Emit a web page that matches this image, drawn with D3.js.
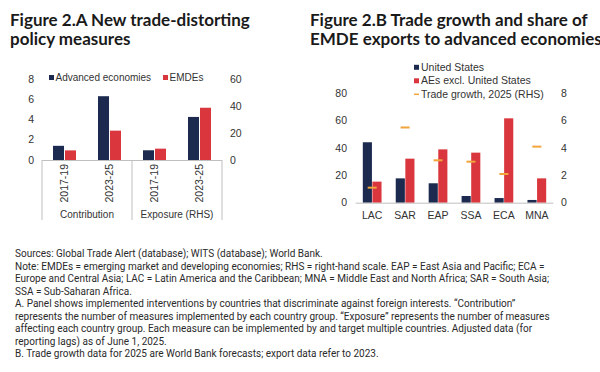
<!DOCTYPE html>
<html>
<head>
<meta charset="utf-8">
<script src="https://cdn.jsdelivr.net/npm/d3@7"></script>
<style>
  body { margin: 0; background: #fff; }
  svg { display: block; }
  .tick-label { font-family: "Liberation Sans", Arial, sans-serif; font-size: 10.5px; fill: #333; }
  .cat-label { font-family: "Liberation Sans", Arial, sans-serif; font-size: 10px; fill: #333; }
  .title { font-family: Lato, "Noto Sans", sans-serif; font-weight: bold; font-size: 17px; fill: #1a1a1a; }
  .note { font-family: Roboto, "Noto Sans", sans-serif; font-size: 10px; fill: #2a2a2a; }
</style>
</head>
<body>
<div id="chart"></div>
<script>
// ---- data, panel A ----
var periodsA = ["2017-19", "2023-25", "2017-19", "2023-25"];
var groupsA = ["Contribution", "Exposure (RHS)"];
var seriesA = ["Advanced economies", "EMDEs"];
var advancedA = [1.4, 6.3, 7.2, 31.9];   // first two on LHS, last two on RHS
var emdesA = [0.95, 2.9, 8.4, 38.7];
var ticksLA = [0, 2, 4, 6, 8];
var ticksRA = [0, 20, 40, 60];

// ---- data, panel B ----
var regionsB = ["LAC", "SAR", "EAP", "SSA", "ECA", "MNA"];
var seriesB = ["United States", "AEs excl. United States", "Trade growth, 2025 (RHS)"];
var usShare = [44.2, 17.8, 14.2, 4.9, 3.4, 2.0];
var aesShare = [15.4, 32.2, 39.0, 36.6, 61.7, 17.8];
var tradeGrowth = [1.1, 5.5, 3.1, 3.0, 2.1, 4.1];
var ticksLB = [0, 20, 40, 60, 80];
var ticksRB = [0, 2, 4, 6, 8];

var notes = [
  "Sources: Global Trade Alert (database); WITS (database); World Bank.",
  "Note: EMDEs = emerging market and developing economies; RHS = right-hand scale. EAP = East Asia and Pacific; ECA =",
  "Europe and Central Asia; LAC = Latin America and the Caribbean; MNA = Middle East and North Africa; SAR = South Asia;",
  "SSA = Sub-Saharan Africa.",
  "A. Panel shows implemented interventions by countries that discriminate against foreign interests. \u201cContribution\u201d",
  "represents the number of measures implemented by each country group. \u201cExposure\u201d represents the number of measures",
  "affecting each country group. Each measure can be implemented by and target multiple countries. Adjusted data (for",
  "reporting lags) as of June 1, 2025.",
  "B. Trade growth data for 2025 are World Bank forecasts; export data refer to 2023."
];

var navy = "#1b2a4e", red = "#d9373d", orange = "#f2a53a", axisGrey = "#bfbfbf";

var svg = d3.select("#chart").append("svg")
    .attr("width", 600)
    .attr("height", 372);

// titles
svg.append("text").attr("class", "title").attr("x", 10).attr("y", 26).text("Figure 2.A New trade-distorting");
svg.append("text").attr("class", "title").attr("x", 10).attr("y", 45).text("policy measures");
svg.append("text").attr("class", "title").attr("x", 310).attr("y", 26).text("Figure 2.B Trade growth and share of");
svg.append("text").attr("class", "title").attr("x", 310).attr("y", 45).text("EMDE exports to advanced economies");

// ================= Panel A =================
var xA = d3.scaleBand()
    .domain(d3.range(periodsA.length))
    .range([42, 222]);

var xA1 = d3.scaleBand()
    .domain(seriesA)
    .range([0, xA.bandwidth()])
    .paddingInner(0.083)
    .paddingOuter(0.917);

var yLA = d3.scaleLinear().domain([0, 8]).range([160, 79]);
var yRA = d3.scaleLinear().domain([0, 60]).range([160, 79]);

var panelA = svg.append("g").attr("class", "panelA");

panelA.selectAll(".ltick").data(ticksLA).enter().append("text")
    .attr("class", "tick-label")
    .attr("x", 34)
    .attr("y", function(d) { return yLA(d); })
    .attr("dy", "0.35em")
    .style("text-anchor", "end")
    .text(function(d) { return d; });

panelA.selectAll(".rtick").data(ticksRA).enter().append("text")
    .attr("class", "tick-label")
    .attr("x", 230)
    .attr("y", function(d) { return yRA(d); })
    .attr("dy", "0.35em")
    .text(function(d) { return d; });

var rowsA = periodsA.map(function(p, i) {
    var y = i < 2 ? yLA : yRA;
    return [
        { i: i, key: seriesA[0], value: advancedA[i], y: y, color: navy },
        { i: i, key: seriesA[1], value: emdesA[i], y: y, color: red }
    ];
});

panelA.selectAll(".bar").data(d3.merge(rowsA)).enter().append("rect")
    .attr("x", function(d) { return xA(d.i) + xA1(d.key); })
    .attr("width", xA1.bandwidth())
    .attr("y", function(d) { return d.y(d.value); })
    .attr("height", function(d) { return d.y(0) - d.y(d.value); })
    .style("fill", function(d) { return d.color; });

// baseline + group separators
panelA.append("line")
    .attr("x1", xA.range()[0]).attr("x2", xA.range()[1])
    .attr("y1", yLA(0) + 0.5).attr("y2", yLA(0) + 0.5)
    .style("stroke", axisGrey);

[0, 2, 4].forEach(function(k) {
    var xx = k < 4 ? xA(k) : xA.range()[1];
    panelA.append("line")
        .attr("x1", xx).attr("x2", xx)
        .attr("y1", yLA(0)).attr("y2", 220)
        .style("stroke", axisGrey);
});

panelA.selectAll(".period").data(periodsA).enter().append("text")
    .attr("class", "tick-label")
    .attr("transform", function(d, i) {
        return "translate(" + (xA(i) + xA.bandwidth() / 2) + "," + 164 + ") rotate(-90)";
    })
    .attr("dy", "0.35em")
    .style("text-anchor", "end")
    .text(function(d) { return d; });

panelA.selectAll(".group").data(groupsA).enter().append("text")
    .attr("class", "cat-label")
    .attr("x", function(d, i) { return xA(i * 2) + xA.bandwidth(); })
    .attr("y", 218)
    .style("text-anchor", "middle")
    .text(function(d) { return d; });

// legend A
var legA = [{ x: 49, label: seriesA[0], color: navy }, { x: 163, label: seriesA[1], color: red }];
legA.forEach(function(l) {
    panelA.append("rect").attr("x", l.x).attr("y", 75).attr("width", 5).attr("height", 5).style("fill", l.color);
    panelA.append("text").attr("class", "cat-label")
        .attr("x", l.x + 6.5).attr("y", 77.5).attr("dy", "0.35em")
        .text(l.label);
});

// ================= Panel B =================
var xB = d3.scaleBand()
    .domain(regionsB)
    .range([355.7, 553.3]);

var xB1 = d3.scaleBand()
    .domain(seriesB.slice(0, 2))
    .range([0, xB.bandwidth()])
    .paddingInner(0.05)
    .paddingOuter(0.74);

var yLB = d3.scaleLinear().domain([0, 80]).range([202.7, 93.3]);
var yRB = d3.scaleLinear().domain([0, 8]).range([202.7, 93.3]);

var panelB = svg.append("g").attr("class", "panelB");

panelB.selectAll(".ltick").data(ticksLB).enter().append("text")
    .attr("class", "tick-label")
    .attr("x", 347)
    .attr("y", function(d) { return yLB(d); })
    .attr("dy", "0.35em")
    .style("text-anchor", "end")
    .text(function(d) { return d; });

panelB.selectAll(".rtick").data(ticksRB).enter().append("text")
    .attr("class", "tick-label")
    .attr("x", 561)
    .attr("y", function(d) { return yRB(d); })
    .attr("dy", "0.35em")
    .text(function(d) { return d; });

var rowsB = regionsB.map(function(r, i) {
    return [
        { r: r, key: seriesB[0], value: usShare[i], color: navy },
        { r: r, key: seriesB[1], value: aesShare[i], color: red }
    ];
});

panelB.selectAll(".bar").data(d3.merge(rowsB)).enter().append("rect")
    .attr("x", function(d) { return xB(d.r) + xB1(d.key); })
    .attr("width", xB1.bandwidth())
    .attr("y", function(d) { return yLB(d.value); })
    .attr("height", function(d) { return yLB(0) - yLB(d.value); })
    .style("fill", function(d) { return d.color; });

panelB.append("line")
    .attr("x1", xB.range()[0]).attr("x2", xB.range()[1])
    .attr("y1", yLB(0) + 0.5).attr("y2", yLB(0) + 0.5)
    .style("stroke", axisGrey);

// trade growth dashes (RHS)
panelB.selectAll(".dash").data(tradeGrowth).enter().append("line")
    .attr("x1", function(d, i) { return xB(regionsB[i]) + xB.bandwidth() / 2 - 4.5; })
    .attr("x2", function(d, i) { return xB(regionsB[i]) + xB.bandwidth() / 2 + 4.5; })
    .attr("y1", function(d) { return yRB(d); })
    .attr("y2", function(d) { return yRB(d); })
    .style("stroke", orange)
    .style("stroke-width", 2);

panelB.selectAll(".region").data(regionsB).enter().append("text")
    .attr("class", "tick-label")
    .attr("x", function(d) { return xB(d) + xB.bandwidth() / 2; })
    .attr("y", 215)
    .attr("dy", "0.35em")
    .style("text-anchor", "middle")
    .text(function(d) { return d; });

// legend B
var legBy = [67.3, 80.8, 94.3];
seriesB.forEach(function(s, i) {
    if (i < 2) {
        panelB.append("rect").attr("x", 414).attr("y", legBy[i] - 2.5).attr("width", 5).attr("height", 5)
            .style("fill", i == 0 ? navy : red);
    } else {
        panelB.append("line").attr("x1", 414).attr("x2", 419).attr("y1", legBy[i]).attr("y2", legBy[i])
            .style("stroke", orange).style("stroke-width", 1.5);
    }
    panelB.append("text").attr("class", "tick-label")
        .attr("x", 421).attr("y", legBy[i]).attr("dy", "0.35em")
        .text(s);
});

// ================= notes =================
svg.selectAll(".note").data(notes).enter().append("text")
    .attr("class", "note")
    .attr("x", 15)
    .attr("y", function(d, i) { return 257 + i * 12.5; })
    .text(function(d) { return d; });
</script>
</body>
</html>
